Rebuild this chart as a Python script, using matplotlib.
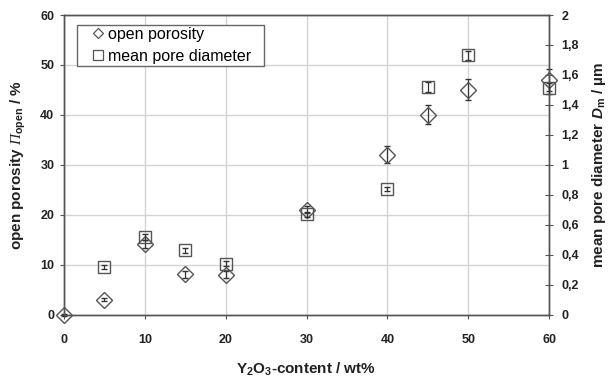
import matplotlib
matplotlib.use("Agg")
import matplotlib.pyplot as plt
from matplotlib.lines import Line2D
from matplotlib.legend_handler import HandlerLine2D
from matplotlib.ticker import FuncFormatter, MultipleLocator

# Y2O3 content of the samples (wt%)
y2o3 = [0, 5, 10, 15, 20, 30, 40, 45, 50, 60]
porosity = [0.0, 3.0, 14.1, 8.1, 8.0, 21.0, 32.0, 40.0, 45.0, 47.0]
porosity_err = [0.2, 0.3, 0.8, 0.7, 0.7, 0.7, 1.7, 1.9, 2.1, 2.2]

# mean pore diameter was not measured for the pure sample
y2o3_dm = [5, 10, 15, 20, 30, 40, 45, 50, 60]
diameter = [0.32, 0.52, 0.43, 0.34, 0.67, 0.84, 1.52, 1.73, 1.51]
diameter_err = [0.012, 0.02, 0.015, 0.015, 0.015, 0.015, 0.035, 0.033, 0.035]

plt.rcParams["font.family"] = ["Liberation Sans", "DejaVu Sans"]
plt.rcParams["mathtext.fontset"] = "custom"
plt.rcParams["mathtext.rm"] = "Liberation Sans:bold"
# italic serif capital Pi and italic bold D for the symbols
plt.rcParams["mathtext.cal"] = "Liberation Serif:italic"
plt.rcParams["mathtext.sf"] = "Liberation Sans:italic:bold"

edge = "#555555"
text_col = "#222222"
fig = plt.figure(figsize=(6.13, 3.78), dpi=100)
ax = fig.add_axes([0.1044, 0.1675, 0.7912, 0.7928])
ax2 = ax.twinx()

ax.errorbar(y2o3, porosity, yerr=porosity_err, fmt="D", ms=8.2, mfc="none",
            mec=edge, mew=1.0, ecolor="#333333", elinewidth=0.9, capsize=2,
            capthick=0.9, clip_on=False, zorder=3)
ax2.errorbar(y2o3_dm, diameter, yerr=diameter_err, fmt="s", ms=8.5, mfc="none",
             mec=edge, mew=1.0, ecolor="#333333", elinewidth=0.9, capsize=2,
             capthick=0.9, clip_on=False, zorder=3)

ax.set_xlim(0, 60)
ax.set_ylim(0, 60)
ax2.set_ylim(0, 2)
ax.xaxis.set_major_locator(MultipleLocator(10))
ax.yaxis.set_major_locator(MultipleLocator(10))
ax2.yaxis.set_major_locator(MultipleLocator(0.2))
ax2.yaxis.set_major_formatter(FuncFormatter(lambda v, p: f"{v:g}".replace(".", ",")))

ax.grid(True, color="#d4d4d4", lw=1.0)
ax.set_axisbelow(True)
for a in (ax, ax2):
    for s in a.spines.values():
        s.set_color(edge)
        s.set_linewidth(1.0)

ax.tick_params(axis="x", direction="out", length=3, color=edge, pad=11,
               labelsize=9, labelcolor=text_col)
ax.tick_params(axis="y", direction="out", length=3, color=edge, pad=4,
               labelsize=9, labelcolor=text_col)
ax2.tick_params(axis="y", direction="inout", length=6, color=edge, pad=6,
                labelsize=9, labelcolor=text_col)
for lab in ax.get_xticklabels() + ax.get_yticklabels() + ax2.get_yticklabels():
    lab.set_fontweight("bold")

ax.set_xlabel(r"Y$_\mathrm{2}$O$_\mathrm{3}$-content / wt%", fontsize=11,
              fontweight="bold", color=text_col, labelpad=10)
ax.set_ylabel(r"open porosity $\mathcal{Π}_\mathrm{open}$ / %", fontsize=11,
              fontweight="bold", color=text_col, labelpad=9)
ax2.set_ylabel(r"mean pore diameter $\mathsf{D}_\mathrm{m}$ / µm", fontsize=11,
               fontweight="bold", color=text_col, labelpad=8)

handles = [
    Line2D([], [], ls="none", marker="D", ms=5.2, mfc="none", mec=edge, mew=0.9),
    Line2D([], [], ls="none", marker="s", ms=7, mfc="none", mec=edge, mew=0.9),
]
leg = ax2.legend(handles, ["open porosity", "mean pore diameter"],
                 loc="upper left", bbox_to_anchor=(0.027, 0.0, 0.386, 0.967),
                 mode="expand", borderaxespad=0, fontsize=11.5, fancybox=False,
                 framealpha=1, edgecolor="#666666", handlelength=1.5,
                 handletextpad=0.34, borderpad=0.12, labelspacing=0.45,
                 handler_map={Line2D: HandlerLine2D(xpad=0.9)})
leg.get_frame().set_linewidth(1.0)

fig.savefig("out.png", dpi=100)
